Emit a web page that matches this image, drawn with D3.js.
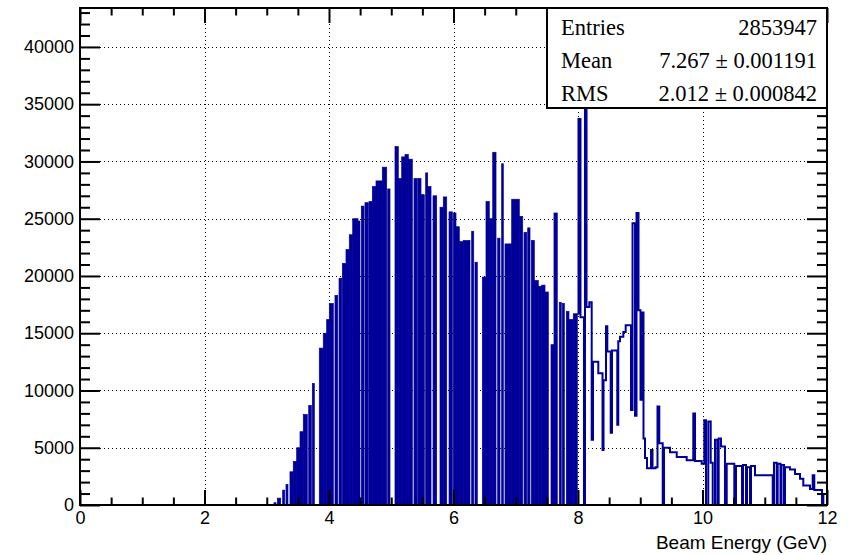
<!DOCTYPE html>
<html><head><meta charset="utf-8">
<script src="https://cdn.jsdelivr.net/npm/d3@7"></script>
<style>body{margin:0;background:#fff}</style></head>
<body><svg id="c" width="853" height="555"></svg>
<script>
// ---- data (Beam Energy in GeV, counts per bin) ----
const solidLo = [3.116,3.170,3.256,3.309,3.373,3.426,3.481,3.534,3.587,3.674,3.732,3.844,3.908,3.963,4.005,4.096,4.161,4.214,4.273,4.326,4.381,4.466,4.519,4.578,4.643,4.696,4.755,4.856,4.943,5.060,5.113,5.168,5.221,5.274,5.365,5.430,5.478,5.553,5.585,5.671,5.783,5.836,5.928,5.997,6.040,6.093,6.157,6.292,6.345,6.463,6.522,6.575,6.630,6.710,6.774,6.827,6.935,7.057,7.133,7.192,7.250,7.298,7.362,7.417,7.470,7.566,7.614,7.699,7.748,7.812,7.855,7.924];
const solidHi = [3.149,3.224,3.288,3.341,3.426,3.481,3.534,3.587,3.651,3.716,3.764,3.908,3.963,4.005,4.069,4.140,4.204,4.273,4.326,4.381,4.466,4.498,4.562,4.631,4.696,4.755,4.856,4.927,4.980,5.113,5.168,5.221,5.274,5.338,5.418,5.478,5.531,5.585,5.639,5.730,5.836,5.891,5.981,6.040,6.093,6.157,6.265,6.325,6.382,6.522,6.575,6.630,6.683,6.747,6.800,6.935,7.057,7.112,7.176,7.229,7.298,7.362,7.417,7.470,7.523,7.614,7.667,7.731,7.780,7.855,7.924,7.989];
const solidCounts = [200,600,1300,1800,2900,3800,5000,6400,7900,8700,10600,13700,15000,16200,17600,18300,19800,21100,22300,23600,25000,24800,26100,26400,26500,27800,28300,29500,27600,31300,28500,30400,30600,30200,28500,28500,27100,29000,27800,27000,26000,26900,25600,25500,24300,23000,23100,23900,21200,19900,26500,25000,30800,23300,29800,22800,26700,25200,23800,24200,23100,19600,19100,19200,18600,14000,25500,17700,17600,16900,16200,16700];

const lineEdges = [7.989,8.008,8.040,8.096,8.112,8.137,8.182,8.220,8.241,8.326,8.394,8.410,8.450,8.471,8.525,8.546,8.631,8.647,8.675,8.728,8.766,8.851,8.876,8.916,8.940,8.972,9.004,9.020,9.052,9.076,9.108,9.173,9.197,9.245,9.277,9.306,9.361,9.382,9.478,9.586,9.746,9.852,9.880,9.987,10.029,10.056,10.093,10.132,10.164,10.201,10.238,10.260,10.297,10.361,10.389,10.511,10.538,10.635,10.651,10.699,10.715,10.763,10.779,10.843,11.128,11.149,11.192,11.208,11.253,11.269,11.309,11.325,11.406,11.486,11.566,11.619,11.727,11.770,11.796,11.920,11.941,12.0];
const lineCounts = [16700,33700,16400,0,45000,17300,17700,5700,12500,11500,4800,10900,15600,13400,6300,13500,7000,14300,14700,15100,15700,8300,24600,7800,25500,17000,9200,16800,5800,4100,3200,4800,3200,3300,8600,5400,0,5000,4600,4200,3900,8000,3850,3600,7400,0,7300,3700,0,5700,0,5800,5100,0,3600,0,3400,0,3500,0,3300,0,3400,2600,0,3700,0,3600,0,3500,0,3300,3100,2700,2300,1700,1400,2600,1300,0,950];

const xMajorTicks = [0,2,4,6,8,10,12];
const yMajorTicks = [0,5000,10000,15000,20000,25000,30000,35000,40000];
const statsNames = ["Entries","Mean","RMS"];
const statsValues = ["2853947","7.267 \u00b1 0.001191","2.012 \u00b1 0.000842"];
const xTitle = "Beam Energy (GeV)";

// ---- layout ----
const L = 80, R = 827, T = 8, B = 505;
const col = "#000099";
const x = d3.scaleLinear().domain([0, 12]).range([L, R]);
const y = d3.scaleLinear().domain([0, 43400]).range([B, T]);
const svg = d3.select("#c");

svg.append("defs").append("clipPath").attr("id", "clip")
  .append("rect").attr("x", L).attr("y", T).attr("width", R - L).attr("height", B - T);

// grid
const grid = svg.append("g").attr("stroke", "#000").attr("stroke-width", 1).attr("stroke-dasharray", "1,3");
grid.selectAll("line.gx").data(xMajorTicks.filter(v => v > 0 && v < 12)).join("line")
  .attr("x1", d => Math.round(x(d)) + 0.5).attr("x2", d => Math.round(x(d)) + 0.5).attr("y1", T).attr("y2", B);
grid.selectAll("line.gy").data(yMajorTicks.filter(v => v > 0)).join("line")
  .attr("y1", d => Math.round(y(d)) + 0.5).attr("y2", d => Math.round(y(d)) + 0.5).attr("x1", L).attr("x2", R);

// histogram: solid part
const hist = svg.append("g").attr("clip-path", "url(#clip)");
hist.selectAll("rect").data(solidCounts).join("rect")
  .attr("x", (d, i) => x(solidLo[i]))
  .attr("width", (d, i) => x(solidHi[i]) - x(solidLo[i]))
  .attr("y", d => y(d))
  .attr("height", d => B - y(d))
  .attr("fill", col).attr("stroke", col).attr("stroke-width", 0.7);

// histogram: outline part
const pts = lineCounts.map((c, i) => [lineEdges[i], c]);
pts.push([lineEdges[lineEdges.length - 1], lineCounts[lineCounts.length - 1]]);
const lineGen = d3.line().x(d => x(d[0])).y(d => y(d[1])).curve(d3.curveStepAfter);
hist.append("path").attr("d", lineGen(pts)).attr("fill", "none")
  .attr("stroke", col).attr("stroke-width", 2);

// axes
const font = "'Liberation Sans', Arial, Helvetica, sans-serif";
function styleAxis(g) {
  g.select(".domain").remove();
  g.selectAll(".tick line").attr("stroke", "#000").attr("stroke-width", 2);
  g.selectAll("text").attr("font-family", font).attr("font-size", 18).attr("fill", "#000");
}
const minorX = d3.range(0, 12.001, 0.5).filter(v => !xMajorTicks.includes(v));
const minorY = d3.range(0, 43001, 1000).filter(v => v % 5000 !== 0);

svg.append("g").attr("transform", `translate(0,${B})`)
  .call(d3.axisBottom(x).tickValues(xMajorTicks).tickSize(-15).tickPadding(6).tickFormat(d3.format("d"))).call(styleAxis);
svg.append("g").attr("transform", `translate(0,${B})`)
  .call(d3.axisBottom(x).tickValues(minorX).tickSize(-7.5).tickFormat("")).call(styleAxis);
svg.append("g").attr("transform", `translate(0,${T})`)
  .call(d3.axisTop(x).tickValues(xMajorTicks).tickSize(-15).tickFormat("")).call(styleAxis);
svg.append("g").attr("transform", `translate(0,${T})`)
  .call(d3.axisTop(x).tickValues(minorX).tickSize(-7.5).tickFormat("")).call(styleAxis);

svg.append("g").attr("transform", `translate(${L},0)`)
  .call(d3.axisLeft(y).tickValues(yMajorTicks).tickSize(-20).tickPadding(6).tickFormat(d3.format("d"))).call(styleAxis);
svg.append("g").attr("transform", `translate(${L},0)`)
  .call(d3.axisLeft(y).tickValues(minorY).tickSize(-10).tickFormat("")).call(styleAxis);
svg.append("g").attr("transform", `translate(${R},0)`)
  .call(d3.axisRight(y).tickValues(yMajorTicks).tickSize(-20).tickFormat("")).call(styleAxis);
svg.append("g").attr("transform", `translate(${R},0)`)
  .call(d3.axisRight(y).tickValues(minorY).tickSize(-10).tickFormat("")).call(styleAxis);

// frame
svg.append("rect").attr("x", L).attr("y", T).attr("width", R - L).attr("height", B - T)
  .attr("fill", "none").attr("stroke", "#000").attr("stroke-width", 2);

// x title
svg.append("text").attr("x", R).attr("y", 549).attr("text-anchor", "end")
  .attr("font-family", font).attr("font-size", 19).text(xTitle);

// stats box
const bx = 547, bw = R - bx, bh = 100;
const st = svg.append("g");
st.append("rect").attr("x", bx).attr("y", T).attr("width", bw).attr("height", bh)
  .attr("fill", "#fff").attr("stroke", "#000").attr("stroke-width", 2);
const sfont = "'Liberation Serif', 'Times New Roman', serif";
st.selectAll("text.n").data(statsNames).join("text").attr("class", "n")
  .attr("x", bx + 14).attr("y", (d, i) => T + 2 + bh * (i + 0.5) / 3).attr("dy", "0.35em")
  .attr("font-family", sfont).attr("font-size", 22.5).text(d => d);
st.selectAll("text.v").data(statsValues).join("text").attr("class", "v")
  .attr("x", R - 10).attr("y", (d, i) => T + 2 + bh * (i + 0.5) / 3).attr("dy", "0.35em")
  .attr("text-anchor", "end").attr("font-family", sfont).attr("font-size", 22.5).text(d => d);
</script></body></html>
